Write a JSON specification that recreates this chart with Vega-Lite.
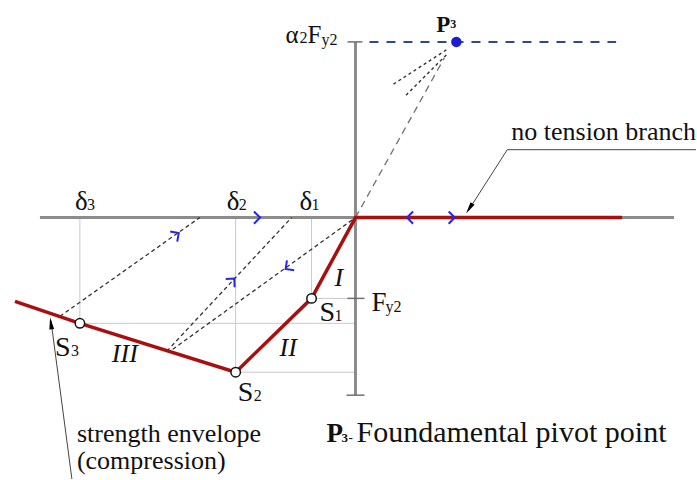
{
 "$schema": "https://vega.github.io/schema/vega-lite/v6.json",
 "width": 697, "height": 480,
 "autosize": {"type": "fit", "contains": "padding"},
 "padding": 0,
 "background": "white",
 "config": {"view": {"stroke": null}},
 "datasets": {
  "axes": [{"x": -316, "y": 0, "x2": 319, "y2": 0}, {"x": 0, "y": 176, "x2": 0, "y2": -178}],
  "ticks": [{"x": -8, "y": 176, "x2": 7, "y2": 176}, {"x": -8, "y": -81, "x2": 9, "y2": -81}, {"x": -9, "y": -178, "x2": 9, "y2": -178}],
  "grid": [
   {"x": -276, "y": 0, "x2": -276, "y2": -106},
   {"x": -120, "y": 0, "x2": -120, "y2": -155},
   {"x": -44, "y": 0, "x2": -44, "y2": -81},
   {"x": -44, "y": -81, "x2": 0, "y2": -81},
   {"x": -276, "y": -106, "x2": 0, "y2": -106},
   {"x": -120, "y": -155, "x2": 0, "y2": -155}
  ],
  "envelope": [
   {"x": -341, "y": -84, "order": 1},
   {"x": -276, "y": -106, "order": 2},
   {"x": -120, "y": -155, "order": 3},
   {"x": -44, "y": -81, "order": 4},
   {"x": 0, "y": 0, "order": 5},
   {"x": 267, "y": 0, "order": 6}
  ],
  "states": [{"name": "S3", "x": -276, "y": -106}, {"name": "S2", "x": -120, "y": -155}, {"name": "S1", "x": -44, "y": -81}],
  "pivot": [{"name": "P3", "x": 101, "y": 176}],
  "level": [{"x": 14, "y": 176, "x2": 261, "y2": 176}],
  "reload": [
   {"x": -296, "y": -99, "x2": -156, "y2": 0},
   {"x": -189, "y": -134, "x2": -64, "y2": 0},
   {"x": -183, "y": -132, "x2": 0, "y2": 0}
  ],
  "pivotdots": [
   {"x": 91, "y": 168, "x2": 37, "y2": 133},
   {"x": 91, "y": 163, "x2": 49, "y2": 121}
  ],
  "pivotray": [{"x": 0, "y": 0, "x2": 89, "y2": 160}],
  "chevrons": [
   {"x": -98, "y": 0, "heading": 0},
   {"x": 54, "y": 0, "heading": 180},
   {"x": 97, "y": 0, "heading": 0},
   {"x": -179, "y": -17, "heading": 325},
   {"x": -123, "y": -63, "heading": 313},
   {"x": -68, "y": -50, "heading": 144}
  ],
  "leaders": [
   {"x": 341, "y": 68, "x2": 152, "y2": 68},
   {"x": 152, "y": 68, "x2": 113, "y2": 7},
   {"x": -284, "y": -262, "x2": -305, "y2": -103}
  ],
  "arrowheads": [{"x": 114, "y": 9, "heading": 122.6}, {"x": -305, "y": -106, "heading": 262.3}],
  "labels": [
   {"text": "δ", "x": -281, "y": 8, "role": "disp"},
   {"text": "δ", "x": -129, "y": 8, "role": "disp"},
   {"text": "δ", "x": -56, "y": 8, "role": "disp"},
   {"text": "3", "x": -269, "y": 8, "role": "disp_sub"},
   {"text": "2", "x": -117, "y": 8, "role": "disp_sub"},
   {"text": "1", "x": -44, "y": 8, "role": "disp_sub"},
   {"text": "S", "x": -301, "y": -139, "role": "state"},
   {"text": "S", "x": -118, "y": -184, "role": "state"},
   {"text": "S", "x": -36, "y": -104, "role": "state"},
   {"text": "3", "x": -285, "y": -139, "role": "state_sub"},
   {"text": "2", "x": -102, "y": -184, "role": "state_sub"},
   {"text": "1", "x": -21, "y": -104, "role": "state_sub"},
   {"text": "F", "x": 16, "y": -94, "role": "force"},
   {"text": "y2", "x": 30, "y": -95, "role": "force_sub"},
   {"text": "α", "x": -70, "y": 175, "role": "force_top"},
   {"text": "F", "x": -48, "y": 175, "role": "force_top"},
   {"text": "2", "x": -56, "y": 175, "role": "force_top_sub"},
   {"text": "y2", "x": -34, "y": 173, "role": "force_top_sub"},
   {"text": "P", "x": 81, "y": 186, "role": "pivot_top"},
   {"text": "3", "x": 95, "y": 190, "role": "pivot_top_sub"},
   {"text": "I", "x": -21, "y": -69, "role": "branch"},
   {"text": "II", "x": -76, "y": -139, "role": "branch"},
   {"text": "III", "x": -244, "y": -145, "role": "branch"},
   {"text": "no tension branch", "x": 156, "y": 78, "role": "note"},
   {"text": "strength envelope", "x": -279, "y": -225, "role": "note"},
   {"text": "(compression)", "x": -279, "y": -252, "role": "note"},
   {"text": "P", "x": -29, "y": -225, "role": "caption_key"},
   {"text": "3", "x": -14, "y": -225, "role": "caption_key_sub"},
   {"text": "-", "x": -7, "y": -225, "role": "caption_key_sub"},
   {"text": "Foundamental pivot point", "x": 1, "y": -225, "role": "caption"}
  ]
 },
 "encoding": {
  "x": {"field": "x", "type": "quantitative", "scale": {"domain": [-356, 341], "nice": false, "zero": false}, "axis": null},
  "y": {"field": "y", "type": "quantitative", "scale": {"domain": [-262, 218], "nice": false, "zero": false}, "axis": null}
 },
 "layer": [
  {"data": {"name": "grid"}, "mark": {"type": "rule", "stroke": "#c9c9c9", "strokeWidth": 1}, "encoding": {"x2": {"field": "x2"}, "y2": {"field": "y2"}}},
  {"data": {"name": "axes"}, "mark": {"type": "rule", "stroke": "#8c8c8c", "strokeWidth": 3}, "encoding": {"x2": {"field": "x2"}, "y2": {"field": "y2"}}},
  {"data": {"name": "ticks"}, "mark": {"type": "rule", "stroke": "#707070", "strokeWidth": 1.5}, "encoding": {"x2": {"field": "x2"}, "y2": {"field": "y2"}}},
  {"data": {"name": "level"}, "mark": {"type": "rule", "stroke": "#2e4d7e", "strokeWidth": 2, "strokeDash": [9, 8]}, "encoding": {"x2": {"field": "x2"}, "y2": {"field": "y2"}}},
  {"data": {"name": "pivotray"}, "mark": {"type": "rule", "stroke": "#707070", "strokeWidth": 1.3, "strokeDash": [7, 5]}, "encoding": {"x2": {"field": "x2"}, "y2": {"field": "y2"}}},
  {"data": {"name": "pivotdots"}, "mark": {"type": "rule", "stroke": "#333333", "strokeWidth": 1.4, "strokeDash": [3, 3]}, "encoding": {"x2": {"field": "x2"}, "y2": {"field": "y2"}}},
  {"data": {"name": "reload"}, "mark": {"type": "rule", "stroke": "#333333", "strokeWidth": 1.3, "strokeDash": [4, 3]}, "encoding": {"x2": {"field": "x2"}, "y2": {"field": "y2"}}},
  {"data": {"name": "envelope"}, "mark": {"type": "line", "stroke": "#a80f0f", "strokeWidth": 3.5}, "encoding": {"order": {"field": "order", "type": "quantitative"}}},
  {"data": {"name": "leaders"}, "mark": {"type": "rule", "stroke": "#444444", "strokeWidth": 1}, "encoding": {"x2": {"field": "x2"}, "y2": {"field": "y2"}}},
  {"data": {"name": "arrowheads"}, "mark": {"type": "point", "shape": "M1,0L-1,-0.4L-1,0.4Z", "filled": true, "fill": "#000000", "size": 144, "opacity": 1, "strokeWidth": 0}, "encoding": {"angle": {"field": "heading", "type": "quantitative", "scale": null}}},
  {"data": {"name": "chevrons"}, "mark": {"type": "point", "shape": "M-0.6,-1L0.4,0L-0.6,1", "filled": false, "stroke": "#2626e0", "strokeWidth": 2, "size": 150, "opacity": 1}, "encoding": {"angle": {"field": "heading", "type": "quantitative", "scale": null}}},
  {"data": {"name": "states"}, "mark": {"type": "point", "shape": "circle", "filled": true, "fill": "white", "stroke": "#111111", "strokeWidth": 1.5, "size": 90, "opacity": 1}},
  {"data": {"name": "pivot"}, "mark": {"type": "point", "shape": "circle", "filled": true, "fill": "#1c1cd0", "size": 110, "opacity": 1}},
  {"data": {"name": "labels"}, "transform": [{"filter": "datum.role === 'disp'"}], "mark": {"type": "text", "align": "left", "baseline": "alphabetic", "font": "Liberation Serif", "fontSize": 27, "color": "#111"}, "encoding": {"text": {"field": "text"}}},
  {"data": {"name": "labels"}, "transform": [{"filter": "datum.role === 'disp_sub'"}], "mark": {"type": "text", "align": "left", "baseline": "alphabetic", "font": "Liberation Serif", "fontSize": 16, "color": "#111"}, "encoding": {"text": {"field": "text"}}},
  {"data": {"name": "labels"}, "transform": [{"filter": "datum.role === 'state'"}], "mark": {"type": "text", "align": "left", "baseline": "alphabetic", "font": "Liberation Serif", "fontSize": 28, "color": "#111"}, "encoding": {"text": {"field": "text"}}},
  {"data": {"name": "labels"}, "transform": [{"filter": "datum.role === 'state_sub'"}], "mark": {"type": "text", "align": "left", "baseline": "alphabetic", "font": "Liberation Serif", "fontSize": 16, "color": "#111"}, "encoding": {"text": {"field": "text"}}},
  {"data": {"name": "labels"}, "transform": [{"filter": "datum.role === 'force'"}], "mark": {"type": "text", "align": "left", "baseline": "alphabetic", "font": "Liberation Serif", "fontSize": 27, "color": "#111"}, "encoding": {"text": {"field": "text"}}},
  {"data": {"name": "labels"}, "transform": [{"filter": "datum.role === 'force_sub'"}], "mark": {"type": "text", "align": "left", "baseline": "alphabetic", "font": "Liberation Serif", "fontSize": 16, "color": "#111"}, "encoding": {"text": {"field": "text"}}},
  {"data": {"name": "labels"}, "transform": [{"filter": "datum.role === 'force_top'"}], "mark": {"type": "text", "align": "left", "baseline": "alphabetic", "font": "Liberation Serif", "fontSize": 25, "color": "#111"}, "encoding": {"text": {"field": "text"}}},
  {"data": {"name": "labels"}, "transform": [{"filter": "datum.role === 'force_top_sub'"}], "mark": {"type": "text", "align": "left", "baseline": "alphabetic", "font": "Liberation Serif", "fontSize": 16, "color": "#111"}, "encoding": {"text": {"field": "text"}}},
  {"data": {"name": "labels"}, "transform": [{"filter": "datum.role === 'pivot_top'"}], "mark": {"type": "text", "align": "left", "baseline": "alphabetic", "font": "Liberation Serif", "fontSize": 23, "fontWeight": "bold", "color": "#111"}, "encoding": {"text": {"field": "text"}}},
  {"data": {"name": "labels"}, "transform": [{"filter": "datum.role === 'pivot_top_sub'"}], "mark": {"type": "text", "align": "left", "baseline": "alphabetic", "font": "Liberation Serif", "fontSize": 12, "fontWeight": "bold", "color": "#111"}, "encoding": {"text": {"field": "text"}}},
  {"data": {"name": "labels"}, "transform": [{"filter": "datum.role === 'branch'"}], "mark": {"type": "text", "align": "left", "baseline": "alphabetic", "font": "Liberation Serif", "fontSize": 26, "fontStyle": "italic", "color": "#111"}, "encoding": {"text": {"field": "text"}}},
  {"data": {"name": "labels"}, "transform": [{"filter": "datum.role === 'note'"}], "mark": {"type": "text", "align": "left", "baseline": "alphabetic", "font": "Liberation Serif", "fontSize": 26, "color": "#111"}, "encoding": {"text": {"field": "text"}}},
  {"data": {"name": "labels"}, "transform": [{"filter": "datum.role === 'caption_key'"}], "mark": {"type": "text", "align": "left", "baseline": "alphabetic", "font": "Liberation Serif", "fontSize": 27, "fontWeight": "bold", "color": "#111"}, "encoding": {"text": {"field": "text"}}},
  {"data": {"name": "labels"}, "transform": [{"filter": "datum.role === 'caption_key_sub'"}], "mark": {"type": "text", "align": "left", "baseline": "alphabetic", "font": "Liberation Serif", "fontSize": 13, "fontWeight": "bold", "color": "#111"}, "encoding": {"text": {"field": "text"}}},
  {"data": {"name": "labels"}, "transform": [{"filter": "datum.role === 'caption'"}], "mark": {"type": "text", "align": "left", "baseline": "alphabetic", "font": "Liberation Serif", "fontSize": 30, "color": "#111"}, "encoding": {"text": {"field": "text"}}}
 ]
}
